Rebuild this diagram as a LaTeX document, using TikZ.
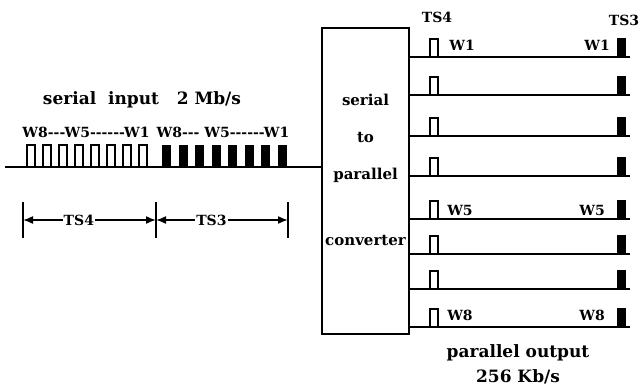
\documentclass[tikz,border=0pt]{standalone}
\usepackage{fontspec}
\setmainfont{DejaVu Serif}
\usetikzlibrary{arrows.meta,positioning}

\begin{document}
\begin{tikzpicture}[
    x=0.5pt, y=-0.5pt,
    every node/.style={font=\bfseries\fontsize{7.5}{9}\selectfont, inner sep=1pt},
    big/.style={font=\bfseries\fontsize{8.5}{10}\selectfont},
    small/.style={font=\bfseries\fontsize{7}{8}\selectfont},
    convbox/.style={
        rectangle,
        draw,
        thick,
        minimum width=43.5pt,
        minimum height=153pt
    },
    wire/.style={thick},
    openpulse/.style={draw, thick},
    dim/.style={{Latex[length=5pt,width=4pt]}-{Latex[length=5pt,width=4pt]}, thick}
]
\useasboundingbox (0,0) rectangle (641,387);

% Nodes
\node[convbox] (conv) at (365.5,181) {};
\node (c1) at (365.5,100) {serial};
\node (c2) at (365.5,137) {to};
\node (c3) at (365.5,175) {parallel};
\node (c4) at (365.5,240) {converter};

\node[big] (sin) at (142,100) {serial\ \ input\ \ \ 2 Mb/s};
\node[small] (wa) at (86,132) {W8{-}{-}{-}W5{-}{-}{-}{-}{-}{-}W1};
\node[small] (wb) at (223,132) {W8{-}{-}{-} W5{-}{-}{-}{-}{-}{-}W1};

\node[big] (pout) at (518,353) {parallel output};
\node[big] (rate) at (518,377) {256 Kb/s};

\node[small] (ts4) at (437,17) {TS4};
\node[small] (ts3) at (624,20) {TS3};
\node[small] (w1a) at (462,45) {W1};
\node[small] (w1b) at (597,45) {W1};
\node[small] (w5a) at (460,210) {W5};
\node[small] (w5b) at (592,210) {W5};
\node[small] (w8a) at (460,315) {W8};
\node[small] (w8b) at (592,315) {W8};

% serial input line
\coordinate (in) at (5,167);
\draw[wire] (in) -- (in -| conv.west);
\foreach \i in {0,...,7} {
    \draw[openpulse] (27+16*\i,167) |- (35+16*\i,145) -- (35+16*\i,167);
    \fill (162+16.5*\i,145) rectangle (171+16.5*\i,167);
}

% time slots
\coordinate (b1) at (23,220);
\coordinate (b2) at (156,220);
\coordinate (b3) at (288,220);
\foreach \b in {b1,b2,b3}
    \draw[thick] (\b) ++(0,-18) -- ++(0,36);
\draw[dim] (b1) -- node[small, pos=0.42, fill=white, inner sep=0.5pt] (l4) {TS4} (b2);
\draw[dim] (b2) -- node[small, pos=0.42, fill=white, inner sep=0.5pt] (l3) {TS3} (b3);

% parallel outputs
\foreach \y [count=\k] in {57,95,136,176,219,254,289,327} {
    \coordinate (o\k) at (630,\y);
    \draw[wire] (conv.east |- o\k) -- (o\k);
    \draw[openpulse] (430,\y) |- (438,\y-18) -- (438,\y);
    \fill (617,\y) rectangle (626,\y-19);
}

\end{tikzpicture}
\end{document}
